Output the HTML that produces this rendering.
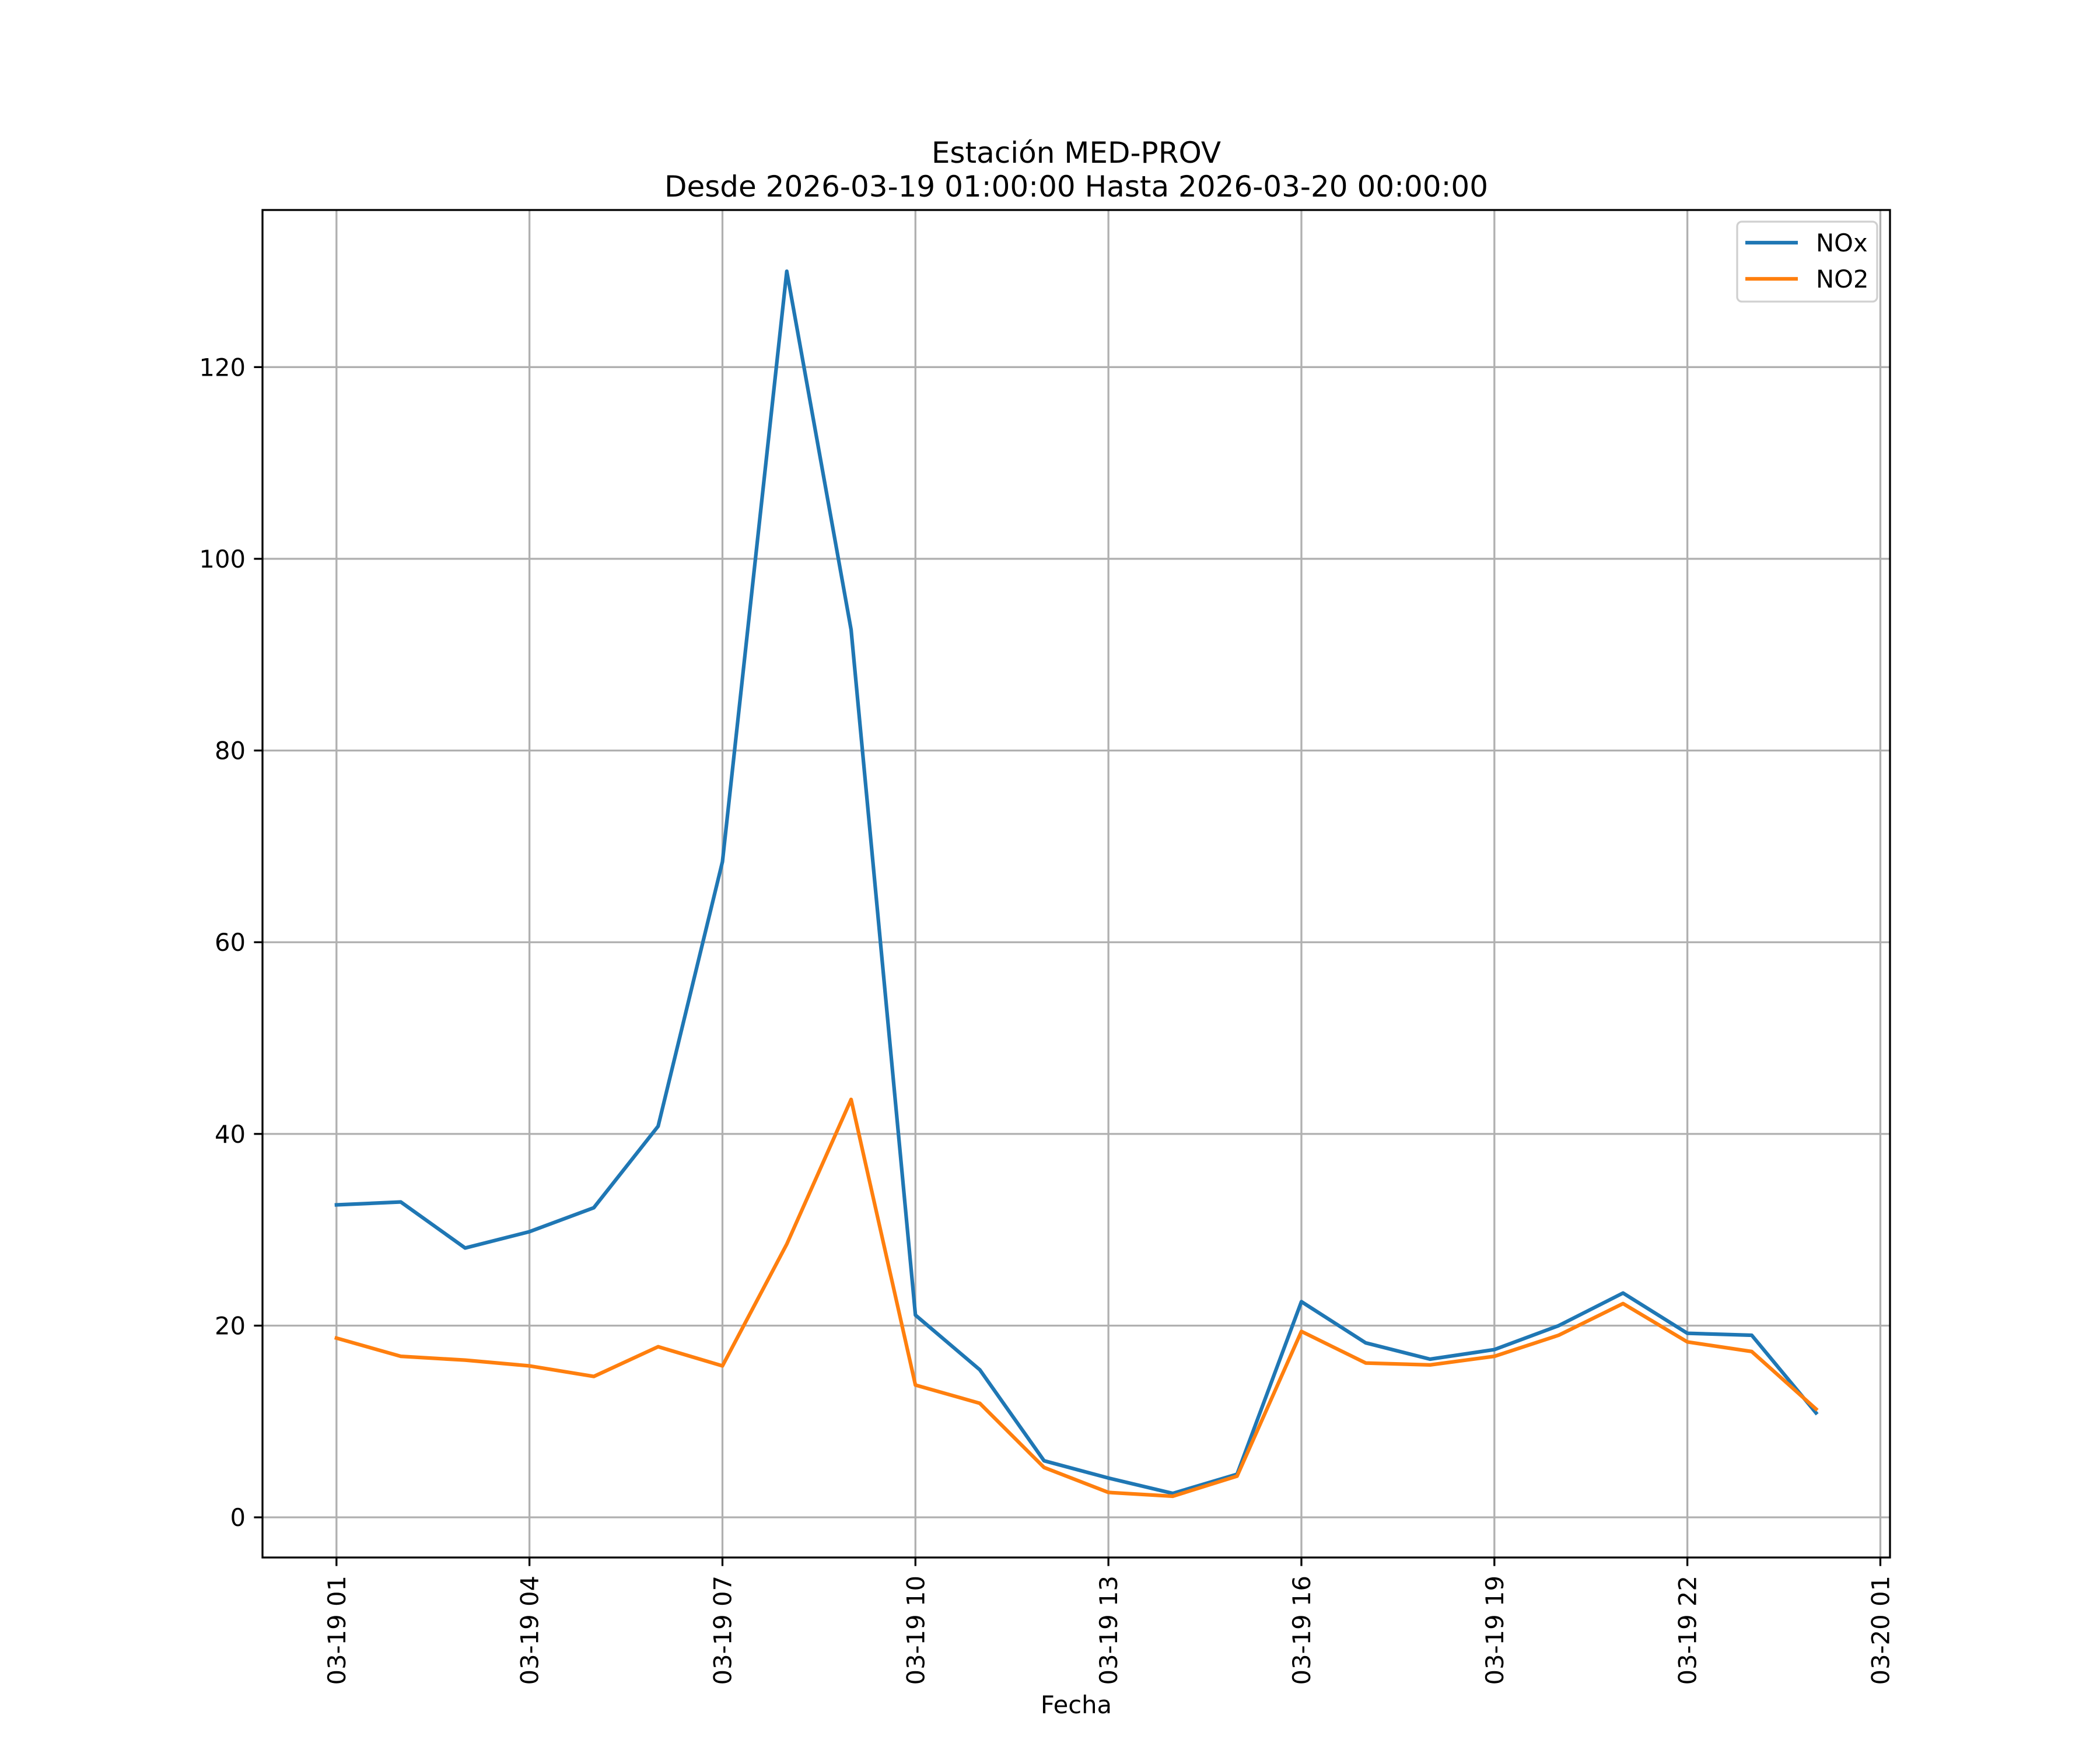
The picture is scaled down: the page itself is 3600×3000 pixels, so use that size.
<!DOCTYPE html>
<html><head><meta charset="utf-8"><style>
html,body{margin:0;padding:0;background:#fff}
svg{display:block}
text{font-family:"DejaVu Sans","Liberation Sans",sans-serif;fill:#000}
</style></head><body>
<svg id="chart" width="3600" height="3000" viewBox="0 0 3600 3000" xmlns="http://www.w3.org/2000/svg">
<rect width="3600" height="3000" fill="#fff"/>
<g id="grid"></g>
<g id="series"></g>
<rect x="450" y="360" width="2790" height="2310" fill="none" stroke="#000" stroke-width="3.3"/>
<g id="ticks"></g>
<text x="1845" y="279" font-size="50" text-anchor="middle">Estación MED-PROV</text>
<text x="1845" y="337" font-size="50" text-anchor="middle">Desde 2026-03-19 01:00:00 Hasta 2026-03-20 00:00:00</text>
<text x="1845" y="2937" font-size="41.7" text-anchor="middle">Fecha</text>
<g>
<rect x="2978" y="380" width="240" height="137" rx="8" fill="#fff" fill-opacity="0.8" stroke="#d0d0d0" stroke-width="3.3"/>
<line x1="2992" y1="416" x2="3082" y2="416" stroke="#1f77b4" stroke-width="6.25"/>
<text x="3113" y="431" font-size="41.7">NOx</text>
<line x1="2992" y1="478" x2="3082" y2="478" stroke="#ff7f0e" stroke-width="6.25"/>
<text x="3113" y="493" font-size="41.7">NO2</text>
</g>
</svg>
<script>
const hours = [0,1,2,3,4,5,6,7,8,9,10,11,12,13,14,15,16,17,18,19,20,21,22,23];
const noxValues = [32.6,32.9,28.1,29.8,32.3,40.8,68.4,130,92.6,21.1,15.4,5.9,4.1,2.5,4.5,22.5,18.2,16.5,17.5,20.0,23.4,19.2,19.0,10.9];
const no2Values = [18.7,16.8,16.4,15.8,14.7,17.8,15.8,28.5,43.6,13.8,11.9,5.2,2.6,2.2,4.3,19.4,16.1,15.9,16.8,19.0,22.3,18.3,17.3,11.3];
const xTickHours = [0,3,6,9,12,15,18,21,24];
const xTickLabels = ["03-19 01","03-19 04","03-19 07","03-19 10","03-19 13","03-19 16","03-19 19","03-19 22","03-20 01"];
const yTicks = [0,20,40,60,80,100,120];

const NS="http://www.w3.org/2000/svg";
const L=450,R=3240,T=360,B=2670;
const xmin=-1.15,xmax=24.15;
const allV=noxValues.concat(no2Values);
const vmin=Math.min(...allV),vmax=Math.max(...allV),pad=(vmax-vmin)*0.05;
const ymin=vmin-pad,ymax=vmax+pad;
const sx=h=>L+(h-xmin)/(xmax-xmin)*(R-L);
const sy=v=>B-(v-ymin)/(ymax-ymin)*(B-T);
function mk(tag,attrs,parent){const e=document.createElementNS(NS,tag);for(const k in attrs)e.setAttribute(k,attrs[k]);parent.appendChild(e);return e;}
const grid=document.getElementById('grid'),ticks=document.getElementById('ticks'),series=document.getElementById('series');
xTickHours.forEach((h,i)=>{
  const x=sx(h);
  const g=mk('line',{x1:x,y1:T,x2:x,y2:B,stroke:'#b0b0b0','stroke-width':3.3},grid);
  
  
  const t=mk('line',{x1:x,y1:B,x2:x,y2:B+14.6,stroke:'#000','stroke-width':3.3},ticks);
  
  
  const lb=mk('text',{x:0,y:0,'font-size':41.7,'text-anchor':'end',transform:`translate(${x+15},${B+31}) rotate(-90)`},ticks);
  lb.textContent=xTickLabels[i];
  
  
});
yTicks.forEach(v=>{
  const y=sy(v);
  const g=mk('line',{x1:L,y1:y,x2:R,y2:y,stroke:'#b0b0b0','stroke-width':3.3},grid);
  
  
  const t=mk('line',{x1:L-14.6,y1:y,x2:L,y2:y,stroke:'#000','stroke-width':3.3},ticks);
  
  
  const lb=mk('text',{x:L-29,y:y+15,'font-size':41.7,'text-anchor':'end'},ticks);
  lb.textContent=String(v);
  
  
});
function line(vals,color,name){
  const p=mk('polyline',{points:vals.map((v,i)=>sx(hours[i])+','+sy(v)).join(' '),fill:'none',stroke:color,'stroke-width':6.25,'stroke-linejoin':'round','stroke-linecap':'square'},series);
  
  
}
line(noxValues,'#1f77b4','nox-line');
line(no2Values,'#ff7f0e','no2-line');
</script>
</body></html>
